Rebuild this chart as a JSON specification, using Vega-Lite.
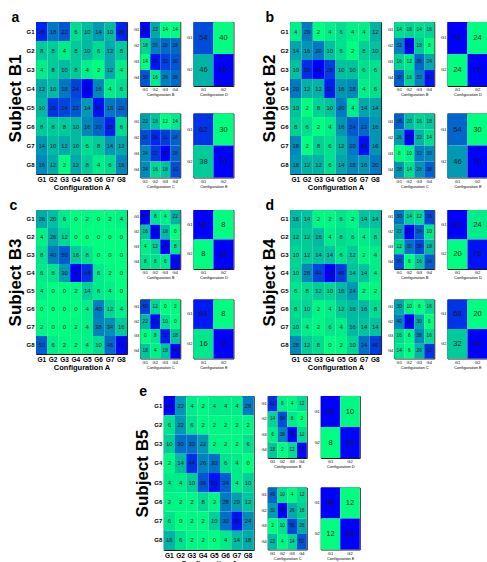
{
  "$schema": "https://vega.github.io/schema/vega-lite/v6.json",
  "padding": {"left": 5, "top": 10, "right": 5, "bottom": 0},
  "background": "white",
  "config": {
    "font": "Liberation Sans",
    "view": {"stroke": "#1a1a1a", "strokeWidth": 1},
    "axis": {"ticks": false, "domain": false, "labelColor": "#000", "titleColor": "#000", "grid": false},
    "axisX": {"labelAngle": 0},
    "title": {"color": "#000"}
  },
  "datasets": {
    "a_A": [
      {"r":"G1","c":"G1","v":28},{"r":"G1","c":"G2","v":18},{"r":"G1","c":"G3","v":22},{"r":"G1","c":"G4","v":6},{"r":"G1","c":"G5","v":10},{"r":"G1","c":"G6","v":14},{"r":"G1","c":"G7","v":10},{"r":"G1","c":"G8","v":28},
      {"r":"G2","c":"G1","v":8},{"r":"G2","c":"G2","v":8},{"r":"G2","c":"G3","v":4},{"r":"G2","c":"G4","v":8},{"r":"G2","c":"G5","v":10},{"r":"G2","c":"G6","v":6},{"r":"G2","c":"G7","v":12},{"r":"G2","c":"G8","v":8},
      {"r":"G3","c":"G1","v":4},{"r":"G3","c":"G2","v":8},{"r":"G3","c":"G3","v":10},{"r":"G3","c":"G4","v":8},{"r":"G3","c":"G5","v":4},{"r":"G3","c":"G6","v":2},{"r":"G3","c":"G7","v":12},{"r":"G3","c":"G8","v":4},
      {"r":"G4","c":"G1","v":12},{"r":"G4","c":"G2","v":10},{"r":"G4","c":"G3","v":18},{"r":"G4","c":"G4","v":24},{"r":"G4","c":"G5","v":32},{"r":"G4","c":"G6","v":16},{"r":"G4","c":"G7","v":4},{"r":"G4","c":"G8","v":6},
      {"r":"G5","c":"G1","v":10},{"r":"G5","c":"G2","v":26},{"r":"G5","c":"G3","v":24},{"r":"G5","c":"G4","v":22},{"r":"G5","c":"G5","v":14},{"r":"G5","c":"G6","v":30},{"r":"G5","c":"G7","v":18},{"r":"G5","c":"G8","v":20},
      {"r":"G6","c":"G1","v":8},{"r":"G6","c":"G2","v":8},{"r":"G6","c":"G3","v":8},{"r":"G6","c":"G4","v":10},{"r":"G6","c":"G5","v":16},{"r":"G6","c":"G6","v":20},{"r":"G6","c":"G7","v":28},{"r":"G6","c":"G8","v":6},
      {"r":"G7","c":"G1","v":14},{"r":"G7","c":"G2","v":10},{"r":"G7","c":"G3","v":12},{"r":"G7","c":"G4","v":10},{"r":"G7","c":"G5","v":6},{"r":"G7","c":"G6","v":8},{"r":"G7","c":"G7","v":14},{"r":"G7","c":"G8","v":12},
      {"r":"G8","c":"G1","v":16},{"r":"G8","c":"G2","v":12},{"r":"G8","c":"G3","v":2},{"r":"G8","c":"G4","v":12},{"r":"G8","c":"G5","v":8},{"r":"G8","c":"G6","v":4},{"r":"G8","c":"G7","v":6},{"r":"G8","c":"G8","v":16}
    ],
    "a_B": [
      {"r":"G1","c":"G1","v":38},{"r":"G1","c":"G2","v":22},{"r":"G1","c":"G3","v":14},{"r":"G1","c":"G4","v":14},
      {"r":"G2","c":"G1","v":18},{"r":"G2","c":"G2","v":26},{"r":"G2","c":"G3","v":28},{"r":"G2","c":"G4","v":28},
      {"r":"G3","c":"G1","v":14},{"r":"G3","c":"G2","v":36},{"r":"G3","c":"G3","v":32},{"r":"G3","c":"G4","v":30},
      {"r":"G4","c":"G1","v":30},{"r":"G4","c":"G2","v":16},{"r":"G4","c":"G3","v":26},{"r":"G4","c":"G4","v":28}
    ],
    "a_C": [
      {"r":"G1","c":"G1","v":22},{"r":"G1","c":"G2","v":18},{"r":"G1","c":"G3","v":12},{"r":"G1","c":"G4","v":14},
      {"r":"G2","c":"G1","v":30},{"r":"G2","c":"G2","v":34},{"r":"G2","c":"G3","v":32},{"r":"G2","c":"G4","v":28},
      {"r":"G3","c":"G1","v":24},{"r":"G3","c":"G2","v":32},{"r":"G3","c":"G3","v":38},{"r":"G3","c":"G4","v":28},
      {"r":"G4","c":"G1","v":24},{"r":"G4","c":"G2","v":16},{"r":"G4","c":"G3","v":18},{"r":"G4","c":"G4","v":30}
    ],
    "a_D": [
      {"r":"G1","c":"G1","v":54},{"r":"G1","c":"G2","v":40},
      {"r":"G2","c":"G1","v":46},{"r":"G2","c":"G2","v":60}
    ],
    "a_E": [
      {"r":"G1","c":"G1","v":62},{"r":"G1","c":"G2","v":30},
      {"r":"G2","c":"G1","v":38},{"r":"G2","c":"G2","v":70}
    ],
    "b_A": [
      {"r":"G1","c":"G1","v":4},{"r":"G1","c":"G2","v":20},{"r":"G1","c":"G3","v":2},{"r":"G1","c":"G4","v":4},{"r":"G1","c":"G5","v":6},{"r":"G1","c":"G6","v":4},{"r":"G1","c":"G7","v":4},{"r":"G1","c":"G8","v":12},
      {"r":"G2","c":"G1","v":14},{"r":"G2","c":"G2","v":16},{"r":"G2","c":"G3","v":20},{"r":"G2","c":"G4","v":10},{"r":"G2","c":"G5","v":6},{"r":"G2","c":"G6","v":2},{"r":"G2","c":"G7","v":8},{"r":"G2","c":"G8","v":10},
      {"r":"G3","c":"G1","v":10},{"r":"G3","c":"G2","v":30},{"r":"G3","c":"G3","v":36},{"r":"G3","c":"G4","v":28},{"r":"G3","c":"G5","v":10},{"r":"G3","c":"G6","v":10},{"r":"G3","c":"G7","v":6},{"r":"G3","c":"G8","v":6},
      {"r":"G4","c":"G1","v":20},{"r":"G4","c":"G2","v":12},{"r":"G4","c":"G3","v":12},{"r":"G4","c":"G4","v":32},{"r":"G4","c":"G5","v":16},{"r":"G4","c":"G6","v":18},{"r":"G4","c":"G7","v":4},{"r":"G4","c":"G8","v":6},
      {"r":"G5","c":"G1","v":10},{"r":"G5","c":"G2","v":2},{"r":"G5","c":"G3","v":8},{"r":"G5","c":"G4","v":10},{"r":"G5","c":"G5","v":20},{"r":"G5","c":"G6","v":4},{"r":"G5","c":"G7","v":14},{"r":"G5","c":"G8","v":14},
      {"r":"G6","c":"G1","v":8},{"r":"G6","c":"G2","v":6},{"r":"G6","c":"G3","v":2},{"r":"G6","c":"G4","v":4},{"r":"G6","c":"G5","v":16},{"r":"G6","c":"G6","v":24},{"r":"G6","c":"G7","v":22},{"r":"G6","c":"G8","v":16},
      {"r":"G7","c":"G1","v":18},{"r":"G7","c":"G2","v":2},{"r":"G7","c":"G3","v":8},{"r":"G7","c":"G4","v":6},{"r":"G7","c":"G5","v":12},{"r":"G7","c":"G6","v":20},{"r":"G7","c":"G7","v":34},{"r":"G7","c":"G8","v":16},
      {"r":"G8","c":"G1","v":16},{"r":"G8","c":"G2","v":12},{"r":"G8","c":"G3","v":12},{"r":"G8","c":"G4","v":6},{"r":"G8","c":"G5","v":14},{"r":"G8","c":"G6","v":18},{"r":"G8","c":"G7","v":16},{"r":"G8","c":"G8","v":20}
    ],
    "b_B": [
      {"r":"G1","c":"G1","v":14},{"r":"G1","c":"G2","v":16},{"r":"G1","c":"G3","v":14},{"r":"G1","c":"G4","v":16},
      {"r":"G2","c":"G1","v":32},{"r":"G2","c":"G2","v":56},{"r":"G2","c":"G3","v":18},{"r":"G2","c":"G4","v":8},
      {"r":"G3","c":"G1","v":16},{"r":"G3","c":"G2","v":12},{"r":"G3","c":"G3","v":36},{"r":"G3","c":"G4","v":24},
      {"r":"G4","c":"G1","v":38},{"r":"G4","c":"G2","v":16},{"r":"G4","c":"G3","v":32},{"r":"G4","c":"G4","v":52}
    ],
    "b_C": [
      {"r":"G1","c":"G1","v":38},{"r":"G1","c":"G2","v":20},{"r":"G1","c":"G3","v":16},{"r":"G1","c":"G4","v":18},
      {"r":"G2","c":"G1","v":26},{"r":"G2","c":"G2","v":56},{"r":"G2","c":"G3","v":22},{"r":"G2","c":"G4","v":14},
      {"r":"G3","c":"G1","v":8},{"r":"G3","c":"G2","v":10},{"r":"G3","c":"G3","v":32},{"r":"G3","c":"G4","v":30},
      {"r":"G4","c":"G1","v":28},{"r":"G4","c":"G2","v":14},{"r":"G4","c":"G3","v":28},{"r":"G4","c":"G4","v":38}
    ],
    "b_D": [
      {"r":"G1","c":"G1","v":76},{"r":"G1","c":"G2","v":24},
      {"r":"G2","c":"G1","v":24},{"r":"G2","c":"G2","v":76}
    ],
    "b_E": [
      {"r":"G1","c":"G1","v":54},{"r":"G1","c":"G2","v":30},
      {"r":"G2","c":"G1","v":46},{"r":"G2","c":"G2","v":70}
    ],
    "c_A": [
      {"r":"G1","c":"G1","v":26},{"r":"G1","c":"G2","v":20},{"r":"G1","c":"G3","v":6},{"r":"G1","c":"G4","v":0},{"r":"G1","c":"G5","v":2},{"r":"G1","c":"G6","v":0},{"r":"G1","c":"G7","v":2},{"r":"G1","c":"G8","v":4},
      {"r":"G2","c":"G1","v":4},{"r":"G2","c":"G2","v":26},{"r":"G2","c":"G3","v":12},{"r":"G2","c":"G4","v":0},{"r":"G2","c":"G5","v":0},{"r":"G2","c":"G6","v":0},{"r":"G2","c":"G7","v":0},{"r":"G2","c":"G8","v":0},
      {"r":"G3","c":"G1","v":8},{"r":"G3","c":"G2","v":40},{"r":"G3","c":"G3","v":50},{"r":"G3","c":"G4","v":16},{"r":"G3","c":"G5","v":8},{"r":"G3","c":"G6","v":0},{"r":"G3","c":"G7","v":0},{"r":"G3","c":"G8","v":0},
      {"r":"G4","c":"G1","v":6},{"r":"G4","c":"G2","v":8},{"r":"G4","c":"G3","v":30},{"r":"G4","c":"G4","v":78},{"r":"G4","c":"G5","v":64},{"r":"G4","c":"G6","v":6},{"r":"G4","c":"G7","v":2},{"r":"G4","c":"G8","v":0},
      {"r":"G5","c":"G1","v":4},{"r":"G5","c":"G2","v":0},{"r":"G5","c":"G3","v":0},{"r":"G5","c":"G4","v":2},{"r":"G5","c":"G5","v":14},{"r":"G5","c":"G6","v":6},{"r":"G5","c":"G7","v":4},{"r":"G5","c":"G8","v":0},
      {"r":"G6","c":"G1","v":0},{"r":"G6","c":"G2","v":0},{"r":"G6","c":"G3","v":0},{"r":"G6","c":"G4","v":0},{"r":"G6","c":"G5","v":4},{"r":"G6","c":"G6","v":40},{"r":"G6","c":"G7","v":12},{"r":"G6","c":"G8","v":4},
      {"r":"G7","c":"G1","v":2},{"r":"G7","c":"G2","v":0},{"r":"G7","c":"G3","v":0},{"r":"G7","c":"G4","v":2},{"r":"G7","c":"G5","v":4},{"r":"G7","c":"G6","v":38},{"r":"G7","c":"G7","v":34},{"r":"G7","c":"G8","v":16},
      {"r":"G8","c":"G1","v":50},{"r":"G8","c":"G2","v":6},{"r":"G8","c":"G3","v":2},{"r":"G8","c":"G4","v":2},{"r":"G8","c":"G5","v":4},{"r":"G8","c":"G6","v":10},{"r":"G8","c":"G7","v":46},{"r":"G8","c":"G8","v":76}
    ],
    "c_B": [
      {"r":"G1","c":"G1","v":72},{"r":"G1","c":"G2","v":8},{"r":"G1","c":"G3","v":4},{"r":"G1","c":"G4","v":22},
      {"r":"G2","c":"G1","v":16},{"r":"G2","c":"G2","v":72},{"r":"G2","c":"G3","v":18},{"r":"G2","c":"G4","v":0},
      {"r":"G3","c":"G1","v":4},{"r":"G3","c":"G2","v":12},{"r":"G3","c":"G3","v":72},{"r":"G3","c":"G4","v":8},
      {"r":"G4","c":"G1","v":8},{"r":"G4","c":"G2","v":8},{"r":"G4","c":"G3","v":6},{"r":"G4","c":"G4","v":70}
    ],
    "c_C": [
      {"r":"G1","c":"G1","v":60},{"r":"G1","c":"G2","v":12},{"r":"G1","c":"G3","v":0},{"r":"G1","c":"G4","v":2},
      {"r":"G2","c":"G1","v":22},{"r":"G2","c":"G2","v":76},{"r":"G2","c":"G3","v":10},{"r":"G2","c":"G4","v":0},
      {"r":"G3","c":"G1","v":0},{"r":"G3","c":"G2","v":8},{"r":"G3","c":"G3","v":72},{"r":"G3","c":"G4","v":18},
      {"r":"G4","c":"G1","v":18},{"r":"G4","c":"G2","v":4},{"r":"G4","c":"G3","v":18},{"r":"G4","c":"G4","v":80}
    ],
    "c_D": [
      {"r":"G1","c":"G1","v":92},{"r":"G1","c":"G2","v":8},
      {"r":"G2","c":"G1","v":8},{"r":"G2","c":"G2","v":92}
    ],
    "c_E": [
      {"r":"G1","c":"G1","v":84},{"r":"G1","c":"G2","v":8},
      {"r":"G2","c":"G1","v":16},{"r":"G2","c":"G2","v":92}
    ],
    "d_A": [
      {"r":"G1","c":"G1","v":16},{"r":"G1","c":"G2","v":14},{"r":"G1","c":"G3","v":2},{"r":"G1","c":"G4","v":2},{"r":"G1","c":"G5","v":6},{"r":"G1","c":"G6","v":2},{"r":"G1","c":"G7","v":14},{"r":"G1","c":"G8","v":14},
      {"r":"G2","c":"G1","v":12},{"r":"G2","c":"G2","v":12},{"r":"G2","c":"G3","v":16},{"r":"G2","c":"G4","v":4},{"r":"G2","c":"G5","v":8},{"r":"G2","c":"G6","v":6},{"r":"G2","c":"G7","v":4},{"r":"G2","c":"G8","v":8},
      {"r":"G3","c":"G1","v":10},{"r":"G3","c":"G2","v":12},{"r":"G3","c":"G3","v":14},{"r":"G3","c":"G4","v":14},{"r":"G3","c":"G5","v":6},{"r":"G3","c":"G6","v":12},{"r":"G3","c":"G7","v":2},{"r":"G3","c":"G8","v":4},
      {"r":"G4","c":"G1","v":10},{"r":"G4","c":"G2","v":28},{"r":"G4","c":"G3","v":44},{"r":"G4","c":"G4","v":60},{"r":"G4","c":"G5","v":46},{"r":"G4","c":"G6","v":14},{"r":"G4","c":"G7","v":14},{"r":"G4","c":"G8","v":4},
      {"r":"G5","c":"G1","v":6},{"r":"G5","c":"G2","v":8},{"r":"G5","c":"G3","v":12},{"r":"G5","c":"G4","v":10},{"r":"G5","c":"G5","v":16},{"r":"G5","c":"G6","v":24},{"r":"G5","c":"G7","v":2},{"r":"G5","c":"G8","v":2},
      {"r":"G6","c":"G1","v":8},{"r":"G6","c":"G2","v":10},{"r":"G6","c":"G3","v":2},{"r":"G6","c":"G4","v":4},{"r":"G6","c":"G5","v":12},{"r":"G6","c":"G6","v":16},{"r":"G6","c":"G7","v":16},{"r":"G6","c":"G8","v":8},
      {"r":"G7","c":"G1","v":10},{"r":"G7","c":"G2","v":4},{"r":"G7","c":"G3","v":2},{"r":"G7","c":"G4","v":6},{"r":"G7","c":"G5","v":4},{"r":"G7","c":"G6","v":16},{"r":"G7","c":"G7","v":14},{"r":"G7","c":"G8","v":14},
      {"r":"G8","c":"G1","v":28},{"r":"G8","c":"G2","v":12},{"r":"G8","c":"G3","v":8},{"r":"G8","c":"G4","v":0},{"r":"G8","c":"G5","v":2},{"r":"G8","c":"G6","v":10},{"r":"G8","c":"G7","v":34},{"r":"G8","c":"G8","v":46}
    ],
    "d_B": [
      {"r":"G1","c":"G1","v":30},{"r":"G1","c":"G2","v":14},{"r":"G1","c":"G3","v":12},{"r":"G1","c":"G4","v":38},
      {"r":"G2","c":"G1","v":22},{"r":"G2","c":"G2","v":50},{"r":"G2","c":"G3","v":34},{"r":"G2","c":"G4","v":10},
      {"r":"G3","c":"G1","v":12},{"r":"G3","c":"G2","v":30},{"r":"G3","c":"G3","v":38},{"r":"G3","c":"G4","v":18},
      {"r":"G4","c":"G1","v":36},{"r":"G4","c":"G2","v":6},{"r":"G4","c":"G3","v":16},{"r":"G4","c":"G4","v":34}
    ],
    "d_C": [
      {"r":"G1","c":"G1","v":30},{"r":"G1","c":"G2","v":10},{"r":"G1","c":"G3","v":6},{"r":"G1","c":"G4","v":16},
      {"r":"G2","c":"G1","v":40},{"r":"G2","c":"G2","v":76},{"r":"G2","c":"G3","v":30},{"r":"G2","c":"G4","v":6},
      {"r":"G3","c":"G1","v":16},{"r":"G3","c":"G2","v":8},{"r":"G3","c":"G3","v":38},{"r":"G3","c":"G4","v":16},
      {"r":"G4","c":"G1","v":14},{"r":"G4","c":"G2","v":6},{"r":"G4","c":"G3","v":26},{"r":"G4","c":"G4","v":62}
    ],
    "d_D": [
      {"r":"G1","c":"G1","v":80},{"r":"G1","c":"G2","v":24},
      {"r":"G2","c":"G1","v":20},{"r":"G2","c":"G2","v":76}
    ],
    "d_E": [
      {"r":"G1","c":"G1","v":68},{"r":"G1","c":"G2","v":20},
      {"r":"G2","c":"G1","v":32},{"r":"G2","c":"G2","v":80}
    ],
    "e_A": [
      {"r":"G1","c":"G1","v":54},{"r":"G1","c":"G2","v":22},{"r":"G1","c":"G3","v":4},{"r":"G1","c":"G4","v":2},{"r":"G1","c":"G5","v":4},{"r":"G1","c":"G6","v":4},{"r":"G1","c":"G7","v":4},{"r":"G1","c":"G8","v":28},
      {"r":"G2","c":"G1","v":6},{"r":"G2","c":"G2","v":22},{"r":"G2","c":"G3","v":6},{"r":"G2","c":"G4","v":2},{"r":"G2","c":"G5","v":2},{"r":"G2","c":"G6","v":2},{"r":"G2","c":"G7","v":2},{"r":"G2","c":"G8","v":2},
      {"r":"G3","c":"G1","v":10},{"r":"G3","c":"G2","v":30},{"r":"G3","c":"G3","v":30},{"r":"G3","c":"G4","v":22},{"r":"G3","c":"G5","v":2},{"r":"G3","c":"G6","v":2},{"r":"G3","c":"G7","v":2},{"r":"G3","c":"G8","v":6},
      {"r":"G4","c":"G1","v":2},{"r":"G4","c":"G2","v":14},{"r":"G4","c":"G3","v":44},{"r":"G4","c":"G4","v":26},{"r":"G4","c":"G5","v":30},{"r":"G4","c":"G6","v":6},{"r":"G4","c":"G7","v":4},{"r":"G4","c":"G8","v":0},
      {"r":"G5","c":"G1","v":4},{"r":"G5","c":"G2","v":4},{"r":"G5","c":"G3","v":10},{"r":"G5","c":"G4","v":36},{"r":"G5","c":"G5","v":50},{"r":"G5","c":"G6","v":34},{"r":"G5","c":"G7","v":4},{"r":"G5","c":"G8","v":10},
      {"r":"G6","c":"G1","v":2},{"r":"G6","c":"G2","v":2},{"r":"G6","c":"G3","v":2},{"r":"G6","c":"G4","v":8},{"r":"G6","c":"G5","v":2},{"r":"G6","c":"G6","v":28},{"r":"G6","c":"G7","v":20},{"r":"G6","c":"G8","v":12},
      {"r":"G7","c":"G1","v":6},{"r":"G7","c":"G2","v":0},{"r":"G7","c":"G3","v":2},{"r":"G7","c":"G4","v":2},{"r":"G7","c":"G5","v":10},{"r":"G7","c":"G6","v":30},{"r":"G7","c":"G7","v":50},{"r":"G7","c":"G8","v":24},
      {"r":"G8","c":"G1","v":16},{"r":"G8","c":"G2","v":6},{"r":"G8","c":"G3","v":2},{"r":"G8","c":"G4","v":2},{"r":"G8","c":"G5","v":0},{"r":"G8","c":"G6","v":4},{"r":"G8","c":"G7","v":14},{"r":"G8","c":"G8","v":18}
    ],
    "e_B": [
      {"r":"G1","c":"G1","v":62},{"r":"G1","c":"G2","v":6},{"r":"G1","c":"G3","v":4},{"r":"G1","c":"G4","v":12},
      {"r":"G2","c":"G1","v":14},{"r":"G2","c":"G2","v":54},{"r":"G2","c":"G3","v":8},{"r":"G2","c":"G4","v":2},
      {"r":"G3","c":"G1","v":6},{"r":"G3","c":"G2","v":38},{"r":"G3","c":"G3","v":76},{"r":"G3","c":"G4","v":12},
      {"r":"G4","c":"G1","v":18},{"r":"G4","c":"G2","v":2},{"r":"G4","c":"G3","v":12},{"r":"G4","c":"G4","v":74}
    ],
    "e_C": [
      {"r":"G1","c":"G1","v":46},{"r":"G1","c":"G2","v":10},{"r":"G1","c":"G3","v":4},{"r":"G1","c":"G4","v":12},
      {"r":"G2","c":"G1","v":30},{"r":"G2","c":"G2","v":76},{"r":"G2","c":"G3","v":26},{"r":"G2","c":"G4","v":16},
      {"r":"G3","c":"G1","v":2},{"r":"G3","c":"G2","v":10},{"r":"G3","c":"G3","v":56},{"r":"G3","c":"G4","v":26},
      {"r":"G4","c":"G1","v":22},{"r":"G4","c":"G2","v":4},{"r":"G4","c":"G3","v":14},{"r":"G4","c":"G4","v":52}
    ],
    "e_D": [
      {"r":"G1","c":"G1","v":92},{"r":"G1","c":"G2","v":10},
      {"r":"G2","c":"G1","v":8},{"r":"G2","c":"G2","v":90}
    ],
    "e_E": [
      {"r":"G1","c":"G1","v":88},{"r":"G1","c":"G2","v":12},
      {"r":"G2","c":"G1","v":12},{"r":"G2","c":"G2","v":88}
    ]
  },
  "spacing": 12,
  "center": true,
  "resolve": {"scale": {"color": "independent"}},
  "vconcat": [
    {
      "spacing": 6,
      "resolve": {"scale": {"color": "independent"}},
      "vconcat": [
        {
          "spacing": 25,
          "resolve": {"scale": {"color": "independent"}},
          "hconcat": [
            {
              "title": {"text": "a", "anchor": "start", "fontSize": 14, "fontWeight": "bold", "offset": -3, "dx": 6},
              "spacing": 4.2,
              "resolve": {"scale": {"color": "independent"}},
              "hconcat": [
                {
                  "data": {"name": "a_A"}, "width": 91, "height": 152,
                  "encoding": {
                    "x": {"field": "c", "type": "ordinal", "title": "Configuration A", "axis": {"labelFontSize": 6.5, "labelFontWeight": "bold", "labelPadding": 2, "titleFontSize": 7.5, "titleFontWeight": "bold", "titlePadding": 1}},
                    "y": {"field": "r", "type": "ordinal", "title": "Subject B1", "axis": {"labelFontSize": 6, "labelFontWeight": "bold", "labelPadding": 2, "titleFontSize": 17, "titleFontWeight": "bold", "titlePadding": 2}}
                  },
                  "layer": [
                    {"mark": "rect", "encoding": {"color": {"field": "v", "type": "quantitative", "scale": {"range": ["#00ff80", "#0000ff"], "interpolate": "rgb", "zero": false, "nice": false}, "legend": null}}},
                    {"mark": {"type": "text", "fontSize": 6, "color": "#1a1a1a"}, "encoding": {"text": {"field": "v", "type": "quantitative"}}}
                  ]
                },
                {
                  "spacing": 15.5,
                  "resolve": {"scale": {"color": "independent"}},
                  "vconcat": [
                    {
                      "data": {"name": "a_B"}, "width": 40, "height": 64,
                      "encoding": {
                        "x": {"field": "c", "type": "ordinal", "title": "Configuration B", "axis": {"labelFontSize": 4, "labelPadding": 1.5, "titleFontSize": 4, "titleFontWeight": "normal", "titlePadding": 1}},
                        "y": {"field": "r", "type": "ordinal", "title": null, "axis": {"labelFontSize": 4, "labelPadding": 1.5}}
                      },
                      "layer": [
                        {"mark": "rect", "encoding": {"color": {"field": "v", "type": "quantitative", "scale": {"range": ["#00ff80", "#0000ff"], "interpolate": "rgb", "zero": false, "nice": false}, "legend": null}}},
                        {"mark": {"type": "text", "fontSize": 4.8, "color": "#1a1a1a"}, "encoding": {"text": {"field": "v", "type": "quantitative"}}}
                      ]
                    },
                    {
                      "data": {"name": "a_C"}, "width": 40, "height": 64,
                      "encoding": {
                        "x": {"field": "c", "type": "ordinal", "title": "Configuration C", "axis": {"labelFontSize": 4, "labelPadding": 1.5, "titleFontSize": 4, "titleFontWeight": "normal", "titlePadding": 1}},
                        "y": {"field": "r", "type": "ordinal", "title": null, "axis": {"labelFontSize": 4, "labelPadding": 1.5}}
                      },
                      "layer": [
                        {"mark": "rect", "encoding": {"color": {"field": "v", "type": "quantitative", "scale": {"range": ["#00ff80", "#0000ff"], "interpolate": "rgb", "zero": false, "nice": false}, "legend": null}}},
                        {"mark": {"type": "text", "fontSize": 4.8, "color": "#1a1a1a"}, "encoding": {"text": {"field": "v", "type": "quantitative"}}}
                      ]
                    }
                  ]
                },
                {
                  "spacing": 15.5,
                  "resolve": {"scale": {"color": "independent"}},
                  "vconcat": [
                    {
                      "data": {"name": "a_D"}, "width": 40, "height": 64,
                      "encoding": {
                        "x": {"field": "c", "type": "ordinal", "title": "Configuration D", "axis": {"labelFontSize": 4, "labelPadding": 1.5, "titleFontSize": 4, "titleFontWeight": "normal", "titlePadding": 1}},
                        "y": {"field": "r", "type": "ordinal", "title": null, "axis": {"labelFontSize": 4, "labelPadding": 1.5}}
                      },
                      "layer": [
                        {"mark": "rect", "encoding": {"color": {"field": "v", "type": "quantitative", "scale": {"range": ["#00ff80", "#0000ff"], "interpolate": "rgb", "zero": false, "nice": false}, "legend": null}}},
                        {"mark": {"type": "text", "fontSize": 7.5, "color": "#1a1a1a"}, "encoding": {"text": {"field": "v", "type": "quantitative"}}}
                      ]
                    },
                    {
                      "data": {"name": "a_E"}, "width": 40, "height": 64,
                      "encoding": {
                        "x": {"field": "c", "type": "ordinal", "title": "Configuration E", "axis": {"labelFontSize": 4, "labelPadding": 1.5, "titleFontSize": 4, "titleFontWeight": "normal", "titlePadding": 1}},
                        "y": {"field": "r", "type": "ordinal", "title": null, "axis": {"labelFontSize": 4, "labelPadding": 1.5}}
                      },
                      "layer": [
                        {"mark": "rect", "encoding": {"color": {"field": "v", "type": "quantitative", "scale": {"range": ["#00ff80", "#0000ff"], "interpolate": "rgb", "zero": false, "nice": false}, "legend": null}}},
                        {"mark": {"type": "text", "fontSize": 7.5, "color": "#1a1a1a"}, "encoding": {"text": {"field": "v", "type": "quantitative"}}}
                      ]
                    }
                  ]
                }
              ]
            },
            {
              "title": {"text": "b", "anchor": "start", "fontSize": 14, "fontWeight": "bold", "offset": -3, "dx": 6},
              "spacing": 4.2,
              "resolve": {"scale": {"color": "independent"}},
              "hconcat": [
                {
                  "data": {"name": "b_A"}, "width": 91, "height": 152,
                  "encoding": {
                    "x": {"field": "c", "type": "ordinal", "title": "Configuration A", "axis": {"labelFontSize": 6.5, "labelFontWeight": "bold", "labelPadding": 2, "titleFontSize": 7.5, "titleFontWeight": "bold", "titlePadding": 1}},
                    "y": {"field": "r", "type": "ordinal", "title": "Subject B2", "axis": {"labelFontSize": 6, "labelFontWeight": "bold", "labelPadding": 2, "titleFontSize": 17, "titleFontWeight": "bold", "titlePadding": 2}}
                  },
                  "layer": [
                    {"mark": "rect", "encoding": {"color": {"field": "v", "type": "quantitative", "scale": {"range": ["#00ff80", "#0000ff"], "interpolate": "rgb", "zero": false, "nice": false}, "legend": null}}},
                    {"mark": {"type": "text", "fontSize": 6, "color": "#1a1a1a"}, "encoding": {"text": {"field": "v", "type": "quantitative"}}}
                  ]
                },
                {
                  "spacing": 15.5,
                  "resolve": {"scale": {"color": "independent"}},
                  "vconcat": [
                    {
                      "data": {"name": "b_B"}, "width": 40, "height": 64,
                      "encoding": {
                        "x": {"field": "c", "type": "ordinal", "title": "Configuration B", "axis": {"labelFontSize": 4, "labelPadding": 1.5, "titleFontSize": 4, "titleFontWeight": "normal", "titlePadding": 1}},
                        "y": {"field": "r", "type": "ordinal", "title": null, "axis": {"labelFontSize": 4, "labelPadding": 1.5}}
                      },
                      "layer": [
                        {"mark": "rect", "encoding": {"color": {"field": "v", "type": "quantitative", "scale": {"range": ["#00ff80", "#0000ff"], "interpolate": "rgb", "zero": false, "nice": false}, "legend": null}}},
                        {"mark": {"type": "text", "fontSize": 4.8, "color": "#1a1a1a"}, "encoding": {"text": {"field": "v", "type": "quantitative"}}}
                      ]
                    },
                    {
                      "data": {"name": "b_C"}, "width": 40, "height": 64,
                      "encoding": {
                        "x": {"field": "c", "type": "ordinal", "title": "Configuration C", "axis": {"labelFontSize": 4, "labelPadding": 1.5, "titleFontSize": 4, "titleFontWeight": "normal", "titlePadding": 1}},
                        "y": {"field": "r", "type": "ordinal", "title": null, "axis": {"labelFontSize": 4, "labelPadding": 1.5}}
                      },
                      "layer": [
                        {"mark": "rect", "encoding": {"color": {"field": "v", "type": "quantitative", "scale": {"range": ["#00ff80", "#0000ff"], "interpolate": "rgb", "zero": false, "nice": false}, "legend": null}}},
                        {"mark": {"type": "text", "fontSize": 4.8, "color": "#1a1a1a"}, "encoding": {"text": {"field": "v", "type": "quantitative"}}}
                      ]
                    }
                  ]
                },
                {
                  "spacing": 15.5,
                  "resolve": {"scale": {"color": "independent"}},
                  "vconcat": [
                    {
                      "data": {"name": "b_D"}, "width": 40, "height": 64,
                      "encoding": {
                        "x": {"field": "c", "type": "ordinal", "title": "Configuration D", "axis": {"labelFontSize": 4, "labelPadding": 1.5, "titleFontSize": 4, "titleFontWeight": "normal", "titlePadding": 1}},
                        "y": {"field": "r", "type": "ordinal", "title": null, "axis": {"labelFontSize": 4, "labelPadding": 1.5}}
                      },
                      "layer": [
                        {"mark": "rect", "encoding": {"color": {"field": "v", "type": "quantitative", "scale": {"range": ["#00ff80", "#0000ff"], "interpolate": "rgb", "zero": false, "nice": false}, "legend": null}}},
                        {"mark": {"type": "text", "fontSize": 7.5, "color": "#1a1a1a"}, "encoding": {"text": {"field": "v", "type": "quantitative"}}}
                      ]
                    },
                    {
                      "data": {"name": "b_E"}, "width": 40, "height": 64,
                      "encoding": {
                        "x": {"field": "c", "type": "ordinal", "title": "Configuration E", "axis": {"labelFontSize": 4, "labelPadding": 1.5, "titleFontSize": 4, "titleFontWeight": "normal", "titlePadding": 1}},
                        "y": {"field": "r", "type": "ordinal", "title": null, "axis": {"labelFontSize": 4, "labelPadding": 1.5}}
                      },
                      "layer": [
                        {"mark": "rect", "encoding": {"color": {"field": "v", "type": "quantitative", "scale": {"range": ["#00ff80", "#0000ff"], "interpolate": "rgb", "zero": false, "nice": false}, "legend": null}}},
                        {"mark": {"type": "text", "fontSize": 7.5, "color": "#1a1a1a"}, "encoding": {"text": {"field": "v", "type": "quantitative"}}}
                      ]
                    }
                  ]
                }
              ]
            }
          ]
        },
        {
          "spacing": 25,
          "resolve": {"scale": {"color": "independent"}},
          "hconcat": [
            {
              "title": {"text": "c", "anchor": "start", "fontSize": 14, "fontWeight": "bold", "offset": -3, "dx": 4},
              "spacing": 4.2,
              "resolve": {"scale": {"color": "independent"}},
              "hconcat": [
                {
                  "data": {"name": "c_A"}, "width": 91, "height": 144,
                  "encoding": {
                    "x": {"field": "c", "type": "ordinal", "title": "Configuration A", "axis": {"labelFontSize": 6.5, "labelFontWeight": "bold", "labelPadding": 2, "titleFontSize": 7.5, "titleFontWeight": "bold", "titlePadding": 1}},
                    "y": {"field": "r", "type": "ordinal", "title": "Subject B3", "axis": {"labelFontSize": 6, "labelFontWeight": "bold", "labelPadding": 2, "titleFontSize": 17, "titleFontWeight": "bold", "titlePadding": 2}}
                  },
                  "layer": [
                    {"mark": "rect", "encoding": {"color": {"field": "v", "type": "quantitative", "scale": {"range": ["#00ff80", "#0000ff"], "interpolate": "rgb", "zero": false, "nice": false}, "legend": null}}},
                    {"mark": {"type": "text", "fontSize": 6, "color": "#1a1a1a"}, "encoding": {"text": {"field": "v", "type": "quantitative"}}}
                  ]
                },
                {
                  "spacing": 18.5,
                  "resolve": {"scale": {"color": "independent"}},
                  "vconcat": [
                    {
                      "data": {"name": "c_B"}, "width": 40, "height": 59,
                      "encoding": {
                        "x": {"field": "c", "type": "ordinal", "title": "Configuration B", "axis": {"labelFontSize": 4, "labelPadding": 1.5, "titleFontSize": 4, "titleFontWeight": "normal", "titlePadding": 1}},
                        "y": {"field": "r", "type": "ordinal", "title": null, "axis": {"labelFontSize": 4, "labelPadding": 1.5}}
                      },
                      "layer": [
                        {"mark": "rect", "encoding": {"color": {"field": "v", "type": "quantitative", "scale": {"range": ["#00ff80", "#0000ff"], "interpolate": "rgb", "zero": false, "nice": false}, "legend": null}}},
                        {"mark": {"type": "text", "fontSize": 4.8, "color": "#1a1a1a"}, "encoding": {"text": {"field": "v", "type": "quantitative"}}}
                      ]
                    },
                    {
                      "data": {"name": "c_C"}, "width": 40, "height": 59,
                      "encoding": {
                        "x": {"field": "c", "type": "ordinal", "title": "Configuration C", "axis": {"labelFontSize": 4, "labelPadding": 1.5, "titleFontSize": 4, "titleFontWeight": "normal", "titlePadding": 1}},
                        "y": {"field": "r", "type": "ordinal", "title": null, "axis": {"labelFontSize": 4, "labelPadding": 1.5}}
                      },
                      "layer": [
                        {"mark": "rect", "encoding": {"color": {"field": "v", "type": "quantitative", "scale": {"range": ["#00ff80", "#0000ff"], "interpolate": "rgb", "zero": false, "nice": false}, "legend": null}}},
                        {"mark": {"type": "text", "fontSize": 4.8, "color": "#1a1a1a"}, "encoding": {"text": {"field": "v", "type": "quantitative"}}}
                      ]
                    }
                  ]
                },
                {
                  "spacing": 18.5,
                  "resolve": {"scale": {"color": "independent"}},
                  "vconcat": [
                    {
                      "data": {"name": "c_D"}, "width": 40, "height": 59,
                      "encoding": {
                        "x": {"field": "c", "type": "ordinal", "title": "Configuration D", "axis": {"labelFontSize": 4, "labelPadding": 1.5, "titleFontSize": 4, "titleFontWeight": "normal", "titlePadding": 1}},
                        "y": {"field": "r", "type": "ordinal", "title": null, "axis": {"labelFontSize": 4, "labelPadding": 1.5}}
                      },
                      "layer": [
                        {"mark": "rect", "encoding": {"color": {"field": "v", "type": "quantitative", "scale": {"range": ["#00ff80", "#0000ff"], "interpolate": "rgb", "zero": false, "nice": false}, "legend": null}}},
                        {"mark": {"type": "text", "fontSize": 7.5, "color": "#1a1a1a"}, "encoding": {"text": {"field": "v", "type": "quantitative"}}}
                      ]
                    },
                    {
                      "data": {"name": "c_E"}, "width": 40, "height": 59,
                      "encoding": {
                        "x": {"field": "c", "type": "ordinal", "title": "Configuration E", "axis": {"labelFontSize": 4, "labelPadding": 1.5, "titleFontSize": 4, "titleFontWeight": "normal", "titlePadding": 1}},
                        "y": {"field": "r", "type": "ordinal", "title": null, "axis": {"labelFontSize": 4, "labelPadding": 1.5}}
                      },
                      "layer": [
                        {"mark": "rect", "encoding": {"color": {"field": "v", "type": "quantitative", "scale": {"range": ["#00ff80", "#0000ff"], "interpolate": "rgb", "zero": false, "nice": false}, "legend": null}}},
                        {"mark": {"type": "text", "fontSize": 7.5, "color": "#1a1a1a"}, "encoding": {"text": {"field": "v", "type": "quantitative"}}}
                      ]
                    }
                  ]
                }
              ]
            },
            {
              "title": {"text": "d", "anchor": "start", "fontSize": 14, "fontWeight": "bold", "offset": -3, "dx": 6},
              "spacing": 4.2,
              "resolve": {"scale": {"color": "independent"}},
              "hconcat": [
                {
                  "data": {"name": "d_A"}, "width": 91, "height": 144,
                  "encoding": {
                    "x": {"field": "c", "type": "ordinal", "title": "Configuration A", "axis": {"labelFontSize": 6.5, "labelFontWeight": "bold", "labelPadding": 2, "titleFontSize": 7.5, "titleFontWeight": "bold", "titlePadding": 1}},
                    "y": {"field": "r", "type": "ordinal", "title": "Subject B4", "axis": {"labelFontSize": 6, "labelFontWeight": "bold", "labelPadding": 2, "titleFontSize": 17, "titleFontWeight": "bold", "titlePadding": 2}}
                  },
                  "layer": [
                    {"mark": "rect", "encoding": {"color": {"field": "v", "type": "quantitative", "scale": {"range": ["#00ff80", "#0000ff"], "interpolate": "rgb", "zero": false, "nice": false}, "legend": null}}},
                    {"mark": {"type": "text", "fontSize": 6, "color": "#1a1a1a"}, "encoding": {"text": {"field": "v", "type": "quantitative"}}}
                  ]
                },
                {
                  "spacing": 18.5,
                  "resolve": {"scale": {"color": "independent"}},
                  "vconcat": [
                    {
                      "data": {"name": "d_B"}, "width": 40, "height": 59,
                      "encoding": {
                        "x": {"field": "c", "type": "ordinal", "title": "Configuration B", "axis": {"labelFontSize": 4, "labelPadding": 1.5, "titleFontSize": 4, "titleFontWeight": "normal", "titlePadding": 1}},
                        "y": {"field": "r", "type": "ordinal", "title": null, "axis": {"labelFontSize": 4, "labelPadding": 1.5}}
                      },
                      "layer": [
                        {"mark": "rect", "encoding": {"color": {"field": "v", "type": "quantitative", "scale": {"range": ["#00ff80", "#0000ff"], "interpolate": "rgb", "zero": false, "nice": false}, "legend": null}}},
                        {"mark": {"type": "text", "fontSize": 4.8, "color": "#1a1a1a"}, "encoding": {"text": {"field": "v", "type": "quantitative"}}}
                      ]
                    },
                    {
                      "data": {"name": "d_C"}, "width": 40, "height": 59,
                      "encoding": {
                        "x": {"field": "c", "type": "ordinal", "title": "Configuration C", "axis": {"labelFontSize": 4, "labelPadding": 1.5, "titleFontSize": 4, "titleFontWeight": "normal", "titlePadding": 1}},
                        "y": {"field": "r", "type": "ordinal", "title": null, "axis": {"labelFontSize": 4, "labelPadding": 1.5}}
                      },
                      "layer": [
                        {"mark": "rect", "encoding": {"color": {"field": "v", "type": "quantitative", "scale": {"range": ["#00ff80", "#0000ff"], "interpolate": "rgb", "zero": false, "nice": false}, "legend": null}}},
                        {"mark": {"type": "text", "fontSize": 4.8, "color": "#1a1a1a"}, "encoding": {"text": {"field": "v", "type": "quantitative"}}}
                      ]
                    }
                  ]
                },
                {
                  "spacing": 18.5,
                  "resolve": {"scale": {"color": "independent"}},
                  "vconcat": [
                    {
                      "data": {"name": "d_D"}, "width": 40, "height": 59,
                      "encoding": {
                        "x": {"field": "c", "type": "ordinal", "title": "Configuration D", "axis": {"labelFontSize": 4, "labelPadding": 1.5, "titleFontSize": 4, "titleFontWeight": "normal", "titlePadding": 1}},
                        "y": {"field": "r", "type": "ordinal", "title": null, "axis": {"labelFontSize": 4, "labelPadding": 1.5}}
                      },
                      "layer": [
                        {"mark": "rect", "encoding": {"color": {"field": "v", "type": "quantitative", "scale": {"range": ["#00ff80", "#0000ff"], "interpolate": "rgb", "zero": false, "nice": false}, "legend": null}}},
                        {"mark": {"type": "text", "fontSize": 7.5, "color": "#1a1a1a"}, "encoding": {"text": {"field": "v", "type": "quantitative"}}}
                      ]
                    },
                    {
                      "data": {"name": "d_E"}, "width": 40, "height": 59,
                      "encoding": {
                        "x": {"field": "c", "type": "ordinal", "title": "Configuration E", "axis": {"labelFontSize": 4, "labelPadding": 1.5, "titleFontSize": 4, "titleFontWeight": "normal", "titlePadding": 1}},
                        "y": {"field": "r", "type": "ordinal", "title": null, "axis": {"labelFontSize": 4, "labelPadding": 1.5}}
                      },
                      "layer": [
                        {"mark": "rect", "encoding": {"color": {"field": "v", "type": "quantitative", "scale": {"range": ["#00ff80", "#0000ff"], "interpolate": "rgb", "zero": false, "nice": false}, "legend": null}}},
                        {"mark": {"type": "text", "fontSize": 7.5, "color": "#1a1a1a"}, "encoding": {"text": {"field": "v", "type": "quantitative"}}}
                      ]
                    }
                  ]
                }
              ]
            }
          ]
        }
      ]
    },
    {
      "title": {"text": "e", "anchor": "start", "fontSize": 14, "fontWeight": "bold", "offset": -3, "dx": 6},
      "spacing": 5,
      "resolve": {"scale": {"color": "independent"}},
      "hconcat": [
        {
          "data": {"name": "e_A"}, "width": 90, "height": 154,
          "encoding": {
            "x": {"field": "c", "type": "ordinal", "title": "Configuration A", "axis": {"labelFontSize": 6.5, "labelFontWeight": "bold", "labelPadding": 2, "titleFontSize": 7.5, "titleFontWeight": "bold", "titlePadding": 1}},
            "y": {"field": "r", "type": "ordinal", "title": "Subject B5", "axis": {"labelFontSize": 6, "labelFontWeight": "bold", "labelPadding": 2, "titleFontSize": 17, "titleFontWeight": "bold", "titlePadding": 2}}
          },
          "layer": [
            {"mark": "rect", "encoding": {"color": {"field": "v", "type": "quantitative", "scale": {"range": ["#00ff80", "#0000ff"], "interpolate": "rgb", "zero": false, "nice": false}, "legend": null}}},
            {"mark": {"type": "text", "fontSize": 6, "color": "#1a1a1a"}, "encoding": {"text": {"field": "v", "type": "quantitative"}}}
          ]
        },
        {
          "spacing": 17.5,
          "resolve": {"scale": {"color": "independent"}},
          "vconcat": [
            {
              "data": {"name": "e_B"}, "width": 39, "height": 62,
              "encoding": {
                "x": {"field": "c", "type": "ordinal", "title": "Configuration B", "axis": {"labelFontSize": 4, "labelPadding": 1.5, "titleFontSize": 4, "titleFontWeight": "normal", "titlePadding": 1}},
                "y": {"field": "r", "type": "ordinal", "title": null, "axis": {"labelFontSize": 4, "labelPadding": 1.5}}
              },
              "layer": [
                {"mark": "rect", "encoding": {"color": {"field": "v", "type": "quantitative", "scale": {"range": ["#00ff80", "#0000ff"], "interpolate": "rgb", "zero": false, "nice": false}, "legend": null}}},
                {"mark": {"type": "text", "fontSize": 4.8, "color": "#1a1a1a"}, "encoding": {"text": {"field": "v", "type": "quantitative"}}}
              ]
            },
            {
              "data": {"name": "e_C"}, "width": 39, "height": 62,
              "encoding": {
                "x": {"field": "c", "type": "ordinal", "title": "Configuration C", "axis": {"labelFontSize": 4, "labelPadding": 1.5, "titleFontSize": 4, "titleFontWeight": "normal", "titlePadding": 1}},
                "y": {"field": "r", "type": "ordinal", "title": null, "axis": {"labelFontSize": 4, "labelPadding": 1.5}}
              },
              "layer": [
                {"mark": "rect", "encoding": {"color": {"field": "v", "type": "quantitative", "scale": {"range": ["#00ff80", "#0000ff"], "interpolate": "rgb", "zero": false, "nice": false}, "legend": null}}},
                {"mark": {"type": "text", "fontSize": 4.8, "color": "#1a1a1a"}, "encoding": {"text": {"field": "v", "type": "quantitative"}}}
              ]
            }
          ]
        },
        {
          "spacing": 17.5,
          "resolve": {"scale": {"color": "independent"}},
          "vconcat": [
            {
              "data": {"name": "e_D"}, "width": 39, "height": 62,
              "encoding": {
                "x": {"field": "c", "type": "ordinal", "title": "Configuration D", "axis": {"labelFontSize": 4, "labelPadding": 1.5, "titleFontSize": 4, "titleFontWeight": "normal", "titlePadding": 1}},
                "y": {"field": "r", "type": "ordinal", "title": null, "axis": {"labelFontSize": 4, "labelPadding": 1.5}}
              },
              "layer": [
                {"mark": "rect", "encoding": {"color": {"field": "v", "type": "quantitative", "scale": {"range": ["#00ff80", "#0000ff"], "interpolate": "rgb", "zero": false, "nice": false}, "legend": null}}},
                {"mark": {"type": "text", "fontSize": 7.5, "color": "#1a1a1a"}, "encoding": {"text": {"field": "v", "type": "quantitative"}}}
              ]
            },
            {
              "data": {"name": "e_E"}, "width": 39, "height": 62,
              "encoding": {
                "x": {"field": "c", "type": "ordinal", "title": "Configuration E", "axis": {"labelFontSize": 4, "labelPadding": 1.5, "titleFontSize": 4, "titleFontWeight": "normal", "titlePadding": 1}},
                "y": {"field": "r", "type": "ordinal", "title": null, "axis": {"labelFontSize": 4, "labelPadding": 1.5}}
              },
              "layer": [
                {"mark": "rect", "encoding": {"color": {"field": "v", "type": "quantitative", "scale": {"range": ["#00ff80", "#0000ff"], "interpolate": "rgb", "zero": false, "nice": false}, "legend": null}}},
                {"mark": {"type": "text", "fontSize": 7.5, "color": "#1a1a1a"}, "encoding": {"text": {"field": "v", "type": "quantitative"}}}
              ]
            }
          ]
        }
      ]
    }
  ]
}
